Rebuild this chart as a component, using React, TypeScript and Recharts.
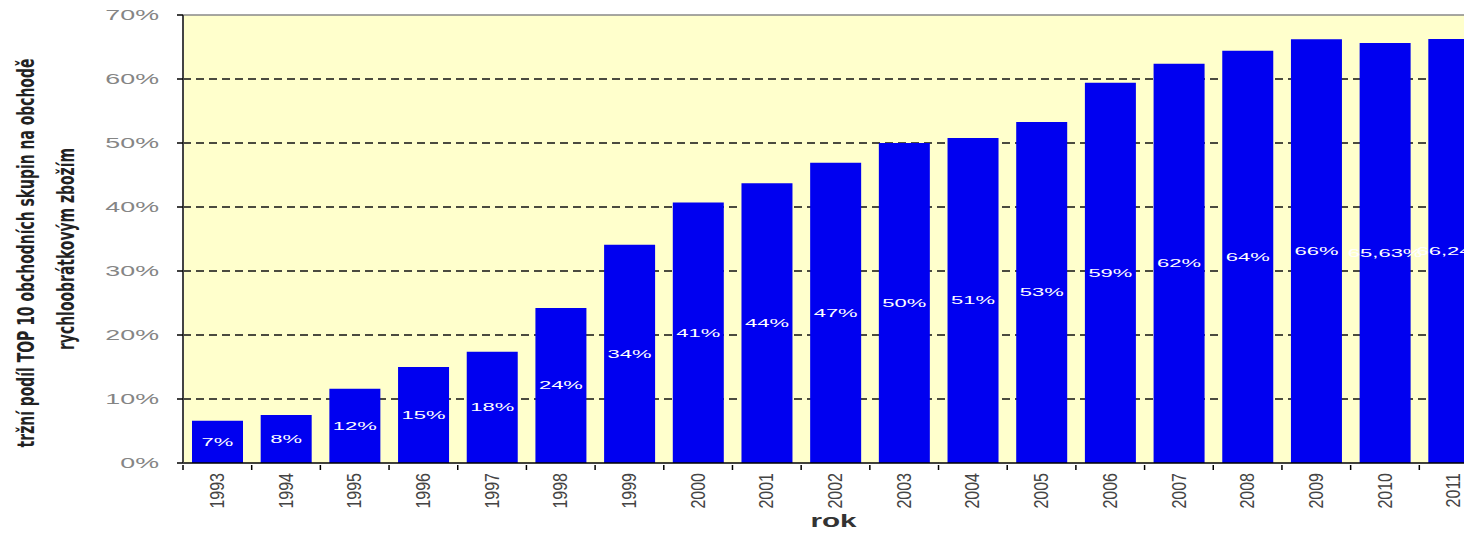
import { BarChart, Bar, XAxis, YAxis, CartesianGrid, ReferenceLine, LabelList, Label } from "recharts";

const years = ["1993", "1994", "1995", "1996", "1997", "1998", "1999", "2000", "2001", "2002", "2003", "2004", "2005", "2006", "2007", "2008", "2009", "2010", "2011"];
const share = [6.6, 7.5, 11.6, 15.0, 17.4, 24.2, 34.1, 40.7, 43.7, 46.9, 50.0, 50.8, 53.3, 59.4, 62.4, 64.4, 66.2, 65.63, 66.24];
const shareLabels = ["7%", "8%", "12%", "15%", "18%", "24%", "34%", "41%", "44%", "47%", "50%", "51%", "53%", "59%", "62%", "64%", "66%", "65,63%", "66,24%"];
const yTicks = [0, 10, 20, 30, 40, 50, 60, 70];
const gridValues = [10, 20, 30, 40, 50, 60];

const data = years.map((year, i) => ({ year, share: share[i], label: shareLabels[i] }));

const FONT = "'Liberation Sans', Arial, sans-serif";
const NARROW = "'Liberation Sans Narrow', 'DejaVu Sans Condensed', 'Liberation Sans', sans-serif";

function YTick(props: any) {
  const { x, y, payload } = props;
  return (
    <text
      transform={`translate(${x},${y}) scale(1.85,1)`}
      textAnchor="end"
      dominantBaseline="central"
      fontFamily={FONT}
      fontSize={14.5}
      fill="#858585"
    >
      {payload.value}%
    </text>
  );
}

function XTick(props: any) {
  const { x, y, payload } = props;
  const half = payload.offset ?? 34;
  return (
    <g>
      <line x1={x - half} x2={x - half} y1={y - 8} y2={y - 3} stroke="#000" strokeWidth={1.5} />
      <text
        transform={`translate(${x},${y}) rotate(-90) scale(1,1.25)`}
        textAnchor="end"
        dominantBaseline="central"
        fontFamily={FONT}
        fontSize={16}
        fill="#444"
      >
        {payload.value}
      </text>
    </g>
  );
}

function BarLabel(props: any) {
  const { x, y, width, height, index } = props;
  const cx = x + width / 2;
  const cy = y + height / 2;
  return (
    <text
      transform={`translate(${cx},${cy}) scale(2,1)`}
      textAnchor="middle"
      dominantBaseline="central"
      fontFamily={FONT}
      fontSize={11}
      fill="#ffffff"
    >
      {shareLabels[index]}
    </text>
  );
}

function YTitle(props: any) {
  const { viewBox } = props;
  const cy = viewBox.y + viewBox.height / 2 + 14;
  return (
    <g fontFamily={NARROW} fontWeight="bold" fontSize={15.5} fill="#222">
      <text transform={`translate(26,${cy}) rotate(-90) scale(1,1.5)`} textAnchor="middle" dominantBaseline="central">
        tržní podíl TOP 10 obchodních skupin na obchodě
      </text>
      <text transform={`translate(66,${cy - 4}) rotate(-90) scale(1,1.5)`} textAnchor="middle" dominantBaseline="central">
        rychloobrátkovým zbožím
      </text>
    </g>
  );
}

function XTitle(props: any) {
  const { viewBox } = props;
  const cx = viewBox.x + viewBox.width / 2 - 2;
  return (
    <text
      transform={`translate(${cx},${viewBox.y + viewBox.height - 16}) scale(1.65,1)`}
      textAnchor="middle"
      dominantBaseline="central"
      fontFamily={FONT}
      fontWeight="bold"
      fontSize={18}
      fill="#333"
    >
      rok
    </text>
  );
}

export default function App() {
  return (
    <div style={{ margin: -8, width: 1472, height: 537, overflow: "hidden", background: "#fff" }}>
      <BarChart width={1504} height={537} data={data} margin={{ top: 15, right: 16, left: 0, bottom: 0 }}>
        <CartesianGrid
          vertical={false}
          horizontalValues={gridValues}
          fill="#FFFFCC"
          stroke="#111"
          strokeDasharray="8 5"
          strokeWidth={1.3}
        />
        <ReferenceLine y={70} stroke="#888" strokeWidth={1.5} />
        <XAxis
          dataKey="year"
          height={74}
          interval={0}
          tickLine={false}
          tickSize={0}
          tickMargin={10}
          axisLine={{ stroke: "#000", strokeWidth: 1.5 }}
          tick={<XTick />}
        >
          <Label content={<XTitle />} />
        </XAxis>
        <YAxis
          width={183}
          domain={[0, 70]}
          ticks={yTicks}
          interval={0}
          tickSize={6}
          tickMargin={18}
          tickLine={{ stroke: "#000", strokeWidth: 1.5 }}
          axisLine={{ stroke: "#444", strokeWidth: 2 }}
          tick={<YTick />}
        >
          <Label content={<YTitle />} />
        </YAxis>
        <Bar dataKey="share" fill="#0000F0" barSize={51} isAnimationActive={false}>
          <LabelList dataKey="label" content={<BarLabel />} />
        </Bar>
      </BarChart>
    </div>
  );
}
